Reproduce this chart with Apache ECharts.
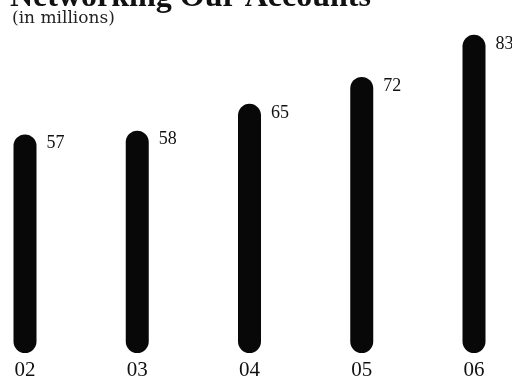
<!DOCTYPE html>
<html><head><meta charset="utf-8">
<script src="https://cdn.jsdelivr.net/npm/echarts@6/dist/echarts.min.js"></script>
<style>html,body{margin:0;padding:0;background:#fff}#c{width:512px;height:377px}</style>
</head><body><div id="c"></div>
<script>
const categories = ['02', '03', '04', '05', '06'];
const accounts = [57, 58, 65, 72, 83];
const titleText = 'Networking Our Accounts';
const subtitleText = '(in millions)';

const chart = echarts.init(document.getElementById('c'), null, {renderer: 'canvas'});
chart.setOption({
  animation: false,
  backgroundColor: '#ffffff',
  title: [
    {text: titleText, left: 10, top: -18, padding: 0,
     textStyle: {fontFamily: 'Liberation Serif', fontWeight: 'bold', fontSize: 32, color: '#111'}},
    {text: subtitleText, left: 12, top: 10, padding: 0,
     textStyle: {fontFamily: 'DejaVu Serif', fontWeight: 'normal', fontSize: 17, color: '#222'}}
  ],
  grid: {left: 25, right: 38, top: 8, bottom: 24, containLabel: false, outerBoundsMode: 'none'},
  xAxis: {
    type: 'category', data: categories, boundaryGap: false,
    axisLine: {show: false}, axisTick: {show: false},
    axisLabel: {margin: 7, fontFamily: 'Liberation Serif', fontSize: 21, color: '#111'}
  },
  yAxis: {type: 'value', min: 0, max: 90, show: false, splitLine: {show: false}},
  series: [{
    type: 'bar', data: accounts, barWidth: 23,
    itemStyle: {color: '#080808', borderRadius: 11.5},
    label: {show: true, position: ['100%', 0], offset: [10, 0], align: 'left', verticalAlign: 'top',
      fontFamily: 'Liberation Serif', fontSize: 18, color: '#111'}
  }]
});
</script></body></html>
